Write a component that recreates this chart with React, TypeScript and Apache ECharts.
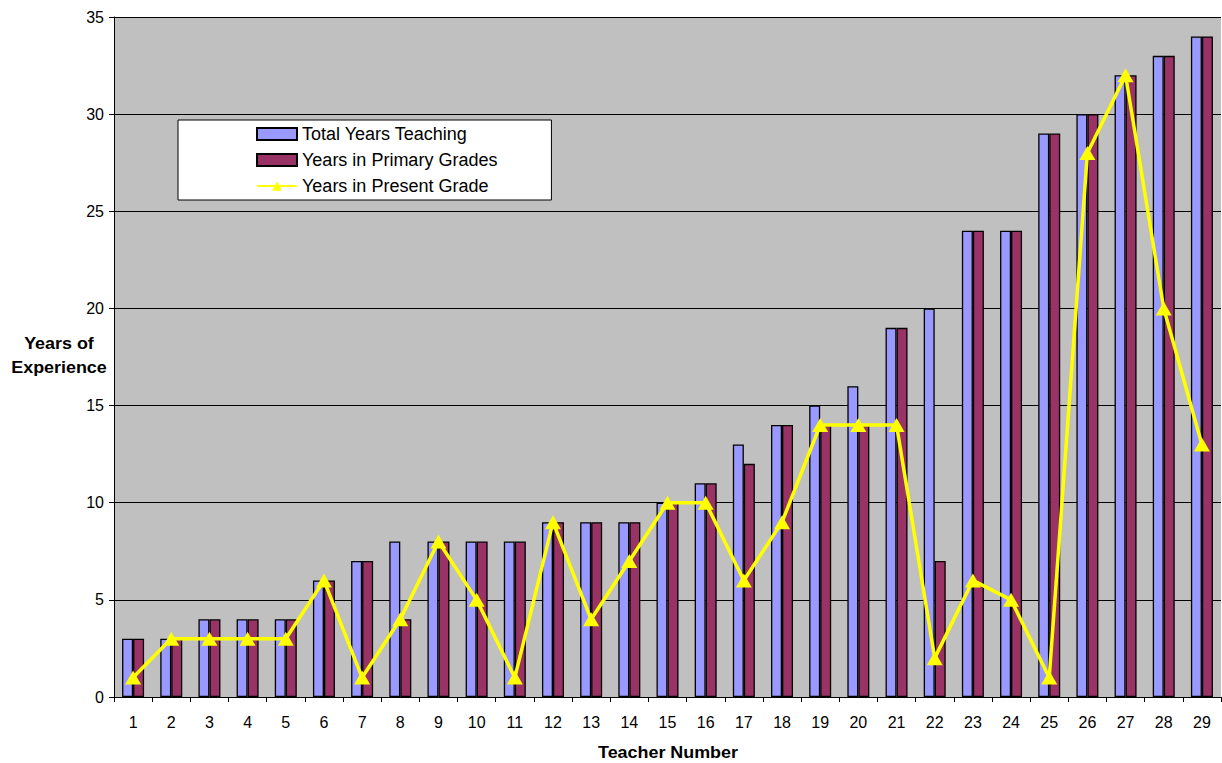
import React, { useEffect, useRef } from "react";
import * as echarts from "echarts";

const teachers = Array.from({ length: 29 }, (_, i) => String(i + 1));
const totalYears = [3, 3, 4, 4, 4, 6, 7, 8, 8, 8, 8, 9, 9, 9, 10, 11, 13, 14, 15, 16, 19, 20, 24, 24, 29, 30, 32, 33, 34];
const primaryYears = [3, 3, 4, 4, 4, 6, 7, 4, 8, 8, 8, 9, 9, 9, 10, 11, 12, 14, 14, 14, 19, 7, 24, 24, 29, 30, 32, 33, 34];
const presentGradeYears = [1, 3, 3, 3, 3, 6, 1, 4, 8, 5, 1, 9, 4, 7, 10, 10, 6, 9, 14, 14, 14, 2, 6, 5, 1, 28, 32, 20, 13];

const FONT = "'Liberation Sans', Arial, sans-serif";
// Titles are drawn slightly wide, like the spreadsheet export they come from
const TITLE_STRETCH = 1.12;

export default function App() {
  const ref = useRef<HTMLDivElement>(null);

  useEffect(() => {
    document.body.style.margin = "0";
    if (!ref.current) return;
    const chart = echarts.init(ref.current, undefined, { renderer: "svg" });
    chart.setOption({
      animation: false,
      backgroundColor: "#ffffff",
      textStyle: { fontFamily: FONT, color: "#000" },
      grid: { left: 114, right: 1, top: 17, bottom: 66, containLabel: false, show: true, backgroundColor: "#C0C0C0", borderWidth: 0 },
      legend: {
        orient: "vertical",
        left: 178,
        top: 120,
        backgroundColor: "#ffffff",
        borderColor: "#000",
        borderWidth: 1,
        padding: [5, 54, 5, 78],
        itemWidth: 40,
        itemHeight: 12,
        itemGap: 8,
        textStyle: { fontFamily: FONT, fontSize: 18, color: "#000", lineHeight: 17 },
        data: [
          { name: "Total Years Teaching", icon: "rect" },
          { name: "Years in Primary Grades", icon: "rect" },
          { name: "Years in Present Grade" },
        ],
      },
      xAxis: {
        type: "category",
        data: teachers,
        axisLine: { lineStyle: { color: "#000", width: 1 } },
        axisTick: { show: true, alignWithLabel: false, length: 5, lineStyle: { color: "#000" } },
        axisLabel: { fontFamily: FONT, fontSize: 16, color: "#000", margin: 17 },
        splitLine: { show: false },
      },
      yAxis: {
        type: "value",
        min: 0,
        max: 35,
        interval: 5,
        axisLine: { show: true, lineStyle: { color: "#000", width: 1 } },
        axisTick: { show: true, length: 5, lineStyle: { color: "#000" } },
        axisLabel: { fontFamily: FONT, fontSize: 16, color: "#000", margin: 10 },
        splitLine: { show: true, lineStyle: { color: "#000", width: 1 } },
      },
      graphic: [
        {
          type: "text",
          x: 59,
          y: 356,
          scaleX: TITLE_STRETCH,
          style: {
            text: "Years of\nExperience",
            font: `bold 16px ${FONT}`,
            fill: "#000",
            align: "center",
            verticalAlign: "middle",
            lineHeight: 24,
          },
        },
        {
          type: "text",
          x: 668,
          y: 753,
          scaleX: TITLE_STRETCH,
          style: {
            text: "Teacher Number",
            font: `bold 16px ${FONT}`,
            fill: "#000",
            align: "center",
            verticalAlign: "middle",
          },
        },
      ],
      series: [
        {
          name: "Total Years Teaching",
          type: "bar",
          data: totalYears,
          barWidth: 11,
          barGap: "0%",
          itemStyle: { color: "#9999FF", borderColor: "#000", borderWidth: 1.3 },
        },
        {
          name: "Years in Primary Grades",
          type: "bar",
          data: primaryYears,
          barWidth: 11,
          barGap: "0%",
          itemStyle: { color: "#993366", borderColor: "#000", borderWidth: 1.3 },
        },
        {
          name: "Years in Present Grade",
          type: "line",
          data: presentGradeYears,
          symbol: "triangle",
          symbolSize: [16, 14],
          lineStyle: { color: "#FFFF00", width: 3.5 },
          itemStyle: { color: "#FFFF00", borderWidth: 0 },
          z: 5,
        },
      ],
    });
    return () => chart.dispose();
  }, []);

  return <div ref={ref} style={{ width: 1222, height: 763 }} />;
}
